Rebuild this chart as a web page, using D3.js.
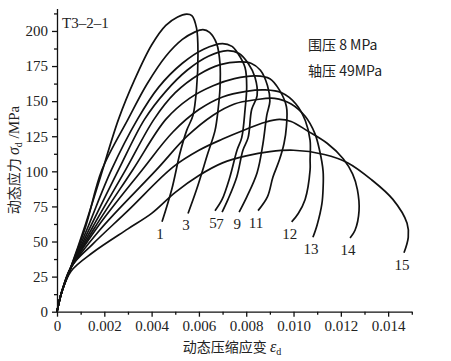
<!DOCTYPE html>
<html><head><meta charset="utf-8">
<script src="https://cdn.jsdelivr.net/npm/d3@7"></script>
<style>body{margin:0;background:#fff}</style>
</head><body>
<svg id="c" width="451" height="361"></svg>
<script>
// ---- data (strain, stress MPa) ----
const curveLabels = ["1","3","5","7","9","11","12","13","14","15"];
const c1  = [[0,0],[0.0002,14],[0.00055,30],[0.0012,62],[0.0018,94],[0.0026,137],[0.0033,166],[0.0040,190],[0.0046,204],[0.0051,210],[0.00548,212],[0.0057,211],[0.0059,202],[0.00596,183],[0.0059,159],[0.00575,140],[0.00548,129],[0.0052,113],[0.00485,87],[0.00444,64]];
const c3  = [[0,0],[0.0002,14],[0.00055,30],[0.0012,60],[0.0019,101],[0.0030,137],[0.0038,162],[0.0046,182],[0.0053,194],[0.0058,199],[0.00617,201],[0.00645,199],[0.00675,191],[0.00689,177],[0.00689,159],[0.00681,144],[0.00668,129],[0.00638,113],[0.0059,87],[0.00554,70]];
const c5  = [[0,0],[0.0002,14],[0.00055,30],[0.0013,60],[0.0023,101],[0.0034,137],[0.0043,160],[0.0053,177],[0.0062,187],[0.0070,191],[0.0074,189],[0.00765,184],[0.00795,174],[0.00802,160],[0.00795,144],[0.00781,124],[0.00761,115],[0.00731,96],[0.00698,80],[0.00668,72]];
const c7  = [[0,0],[0.0002,14],[0.00055,30],[0.0014,60],[0.0026,101],[0.0037,137],[0.0046,157],[0.0055,172],[0.0064,182],[0.0072,186],[0.0077,184],[0.00808,177],[0.00837,167],[0.00846,154],[0.00823,144],[0.00808,124],[0.00786,115],[0.0076,96],[0.00723,80],[0.00698,71]];
const c9  = [[0,0],[0.0002,14],[0.00055,30],[0.0015,60],[0.0029,101],[0.0041,137],[0.0050,156],[0.0060,169],[0.0069,176],[0.0077,178],[0.0082,177],[0.0086,172],[0.0089,161],[0.0090,150],[0.00887,140],[0.00871,120],[0.00846,99],[0.00803,82],[0.0077,71]];
const c11 = [[0,0],[0.0002,14],[0.00055,30],[0.0016,60],[0.0032,101],[0.0046,137],[0.0056,152],[0.0066,161],[0.0075,166],[0.0084,168],[0.0090,166],[0.0094,158],[0.0097,146],[0.0097,132],[0.0096,120],[0.0094,108],[0.00913,96],[0.0089,82],[0.0085,72]];
const c12 = [[0,0],[0.0002,14],[0.00055,30],[0.0017,60],[0.0036,101],[0.0049,128],[0.0060,144],[0.0070,153],[0.0080,157],[0.0088,158],[0.0095,156],[0.0101,148],[0.0105,136],[0.0107,122],[0.0107,108],[0.0107,101],[0.01049,80],[0.0102,70],[0.00992,64]];
const c13 = [[0,0],[0.0002,14],[0.00055,30],[0.0018,58],[0.0042,101],[0.0055,125],[0.0066,140],[0.0075,148],[0.0084,151],[0.0092,152],[0.0099,148],[0.0105,139],[0.0109,127],[0.0111,115],[0.01125,100],[0.01125,88],[0.0112,77],[0.0110,62],[0.01082,53]];
const c14 = [[0,0],[0.0002,14],[0.0006,32],[0.0015,48],[0.003,72],[0.0049,103],[0.006,115],[0.0070,123],[0.0080,130],[0.0088,135],[0.0094,137],[0.0099,135.5],[0.01057,129],[0.01142,120],[0.0121,109],[0.0125,98],[0.0127,87],[0.01277,72],[0.0126,58],[0.01239,52.5]];
const c15 = [[0,0],[0.0002,14],[0.0006,29],[0.0015,42],[0.003,59],[0.004,70],[0.005,85],[0.006,97],[0.007,106],[0.008,111],[0.009,114],[0.010,115],[0.0113,112],[0.0123,106],[0.0133,94],[0.0142,80],[0.0148,63],[0.01485,53],[0.01467,42]];
const series = [c1,c3,c5,c7,c9,c11,c12,c13,c14,c15];

const xTicks = [0,0.002,0.004,0.006,0.008,0.010,0.012,0.014];
const xTickLabels = ["0","0.002","0.004","0.006","0.008","0.010","0.012","0.014"];
const xMinor = [0.001,0.003,0.005,0.007,0.009,0.011,0.013,0.015];
const yTicks = [0,25,50,75,100,125,150,175,200];
const yMinor = [12.5,37.5,62.5,87.5,112.5,137.5,162.5,187.5,212.5];

// ---- drawing ----
const svg = d3.select("#c");
const serif = "'Liberation Serif','Times New Roman',serif";
const cjk = "'Noto Sans CJK SC','Noto Sans CJK JP',sans-serif";
const x = d3.scaleLinear().domain([0,0.015]).range([57,411.8]);
const y = d3.scaleLinear().domain([0,216]).range([311.7,8.5]);

const gx = svg.append("g").attr("transform","translate(0,311.7)")
  .call(d3.axisBottom(x).tickValues(xTicks).tickFormat((d,i)=>xTickLabels[i]).tickSize(5).tickPadding(4).tickSizeOuter(0));
svg.append("g").attr("transform","translate(0,311.7)")
  .call(d3.axisBottom(x).tickValues(xMinor).tickFormat("").tickSize(3).tickSizeOuter(0))
  .select(".domain").remove();
const gy = svg.append("g").attr("transform","translate(57,0)")
  .call(d3.axisLeft(y).tickValues(yTicks).tickSize(5).tickPadding(4).tickSizeOuter(0));
svg.append("g").attr("transform","translate(57,0)")
  .call(d3.axisLeft(y).tickValues(yMinor).tickFormat("").tickSize(3).tickSizeOuter(0))
  .select(".domain").remove();
svg.selectAll(".domain, .tick line").attr("stroke","#111").attr("stroke-width",1.3);
svg.selectAll(".tick text").attr("font-family",serif).attr("font-size",15).attr("fill","#222");

const line = d3.line().x(d=>x(d[0])).y(d=>y(d[1])).curve(d3.curveCatmullRom.alpha(0.5));
svg.append("g").selectAll("path").data(series).join("path")
  .attr("d",line).attr("fill","none").attr("stroke","#111").attr("stroke-width",1.7).attr("stroke-linejoin","round");

svg.append("g").selectAll("text").data(series).join("text")
  .attr("x",d=>x(d[d.length-1][0])-2)
  .attr("y",d=>y(d[d.length-1][1])+17)
  .attr("text-anchor","middle").attr("font-family",serif).attr("font-size",15).attr("fill","#222")
  .text((d,i)=>curveLabels[i]);

// annotations
svg.append("text").attr("x",62).attr("y",28).attr("font-family",serif).attr("font-size",15).attr("fill","#222").text("T3–2–1");
svg.append("text").attr("x",308).attr("y",50).attr("font-family",cjk).attr("font-size",14).attr("fill","#222").text("围压 8 MPa");
svg.append("text").attr("x",308).attr("y",76).attr("font-family",cjk).attr("font-size",14).attr("fill","#222").text("轴压 49MPa");

// axis titles
const xt = svg.append("text").attr("x",232).attr("y",352).attr("text-anchor","middle")
  .attr("font-family",cjk).attr("font-size",14).attr("fill","#222");
xt.append("tspan").text("动态压缩应变 ");
xt.append("tspan").attr("font-family",serif).attr("font-style","italic").attr("font-size",16).text("ε");
xt.append("tspan").attr("font-family",serif).attr("font-size",10).attr("dy",3).text("d");

const yt = svg.append("text").attr("transform","translate(19,160) rotate(-90)").attr("text-anchor","middle")
  .attr("font-family",cjk).attr("font-size",14).attr("fill","#222");
yt.append("tspan").text("动态应力 ");
yt.append("tspan").attr("font-family",serif).attr("font-style","italic").attr("font-size",16).text("σ");
yt.append("tspan").attr("font-family",serif).attr("font-size",10).attr("dy",3).text("d");
yt.append("tspan").attr("font-family",serif).attr("font-size",15).attr("dy",-3).text(" /MPa");
</script>
</body></html>
